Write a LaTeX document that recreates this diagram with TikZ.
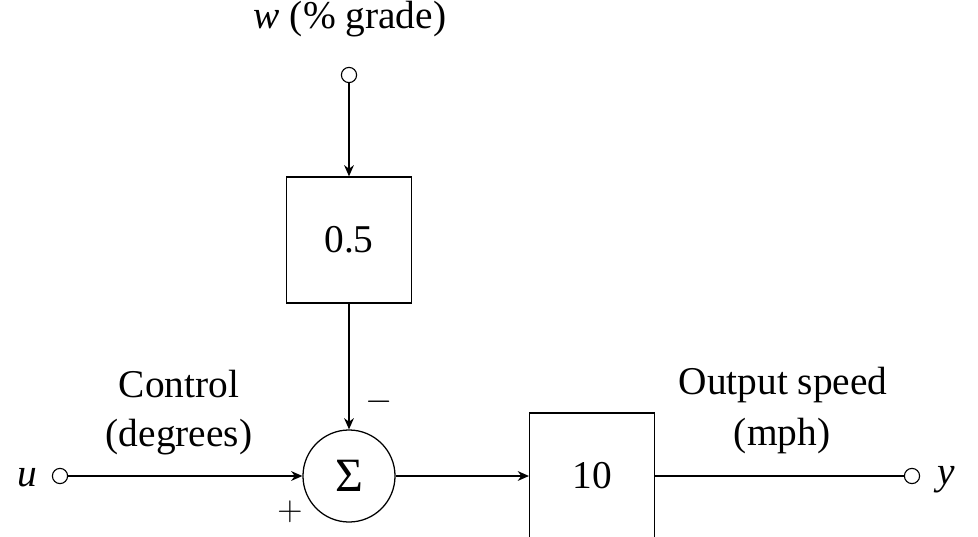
\documentclass[tikz,border=0pt]{standalone}
\usepackage{fontspec}
\setmainfont{Liberation Serif}
\usepackage{tikz}
\usetikzlibrary{arrows.meta}

\tikzset{
    gainbox/.style={draw, line width=0.9pt, minimum width=3.12cm, minimum height=3.15cm},
    sumnode/.style={draw, circle, line width=0.9pt, minimum size=2.3cm, inner sep=0pt},
    port/.style={draw, circle, line width=0.8pt, minimum size=0.38cm, inner sep=0pt},
    lbl/.style={font=\fontsize{28}{32}\selectfont, inner sep=0pt},
    sig/.style={line width=0.9pt}
}

\begin{document}
\begin{tikzpicture}[x=0.025cm, y=-0.025cm, >={Stealth[length=8pt, width=7pt]}]
    \useasboundingbox (0,0) rectangle (978,537);

    % blocks
    \node[gainbox, lbl] (gw) at (349,240) {0.5};
    \node[sumnode, font=\fontsize{34}{38}\selectfont] (sum) at (349,476) {Σ};
    \node[gainbox, lbl] (gp) at (592,476) {10};

    % ports
    \node[port] (win) at (349,75) {};
    \node[port] (uin) at (60,476) {};
    \node[port] (yout) at (912,476) {};

    % signal names
    \node[lbl, anchor=base] (wname) at (350,29) {\textit{w} (\% grade)};
    \node[lbl] (uname) at (27,478) {\textit{u}};
    \node[lbl] (yname) at (946,480) {\textit{y}};
    \node[lbl, anchor=base] (ctl1) at (179,397) {Control};
    \node[lbl, anchor=base] (ctl2) at (179,446) {(degrees)};
    \node[lbl, anchor=base] (out1) at (783,394) {Output speed};
    \node[lbl, anchor=base] (out2) at (782,445) {(mph)};
    \node[lbl] (minus) at (379,402) {$-$};
    \node[lbl] (plus) at (290,512) {$+$};

    % connections
    \draw[sig, ->] (win) -- (gw);
    \draw[sig, ->] (gw) -- (sum);
    \draw[sig, ->] (uin) -- (sum);
    \draw[sig, ->] (sum) -- (gp);
    \draw[sig] (gp) -- (yout);
\end{tikzpicture}
\end{document}
